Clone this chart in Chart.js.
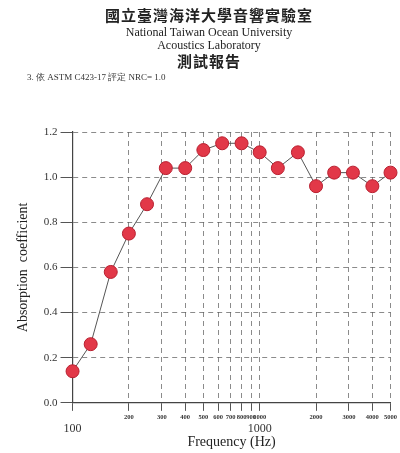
<!DOCTYPE html>
<html>
<head>
<meta charset="utf-8">
<script src="https://cdn.jsdelivr.net/npm/chart.js@4/dist/chart.umd.min.js"></script>
<style>
  html,body{margin:0;padding:0;background:#fff;}
  #wrap{position:relative;width:400px;height:453px;overflow:hidden;}
  .hd{position:absolute;left:9px;width:400px;text-align:center;color:#222;white-space:nowrap;}
  .cjk{font-family:"Noto Sans CJK TC","Noto Sans CJK SC",serif;font-weight:700;}
  .rm{font-family:"Liberation Serif","DejaVu Serif",serif;}
  canvas{position:absolute;left:0;top:0;}
</style>
</head>
<body>
<div id="wrap">
  <canvas id="c" width="400" height="453"></canvas>
  <div class="hd cjk" style="top:4px;font-size:15px;letter-spacing:1px;">國立臺灣海洋大學音響實驗室</div>
  <div class="hd rm" style="top:25px;font-size:12px;">National Taiwan Ocean University</div>
  <div class="hd rm" style="top:38px;font-size:12px;">Acoustics Laboratory</div>
  <div class="hd cjk" style="top:50px;font-size:15px;letter-spacing:1px;">測試報告</div>
  <div class="rm" style="position:absolute;left:27px;top:71px;font-size:9px;color:#333;">3. 依 ASTM C423-17 評定 NRC= 1.0</div>
</div>
<script>
// ---------- DATA ----------
const freqs = [100,125,160,200,250,315,400,500,630,800,1000,1250,1600,2000,2500,3150,4000,5000];
const alpha = [0.14,0.26,0.58,0.75,0.88,1.04,1.04,1.12,1.15,1.15,1.11,1.04,1.11,0.96,1.02,1.02,0.96,1.02];
const smallTicks = [100,200,300,400,500,600,700,800,900,1000,2000,3000,4000,5000];
const bigTicks = [100,1000];
const yTicks = [0,0.2,0.4,0.6,0.8,1.0,1.2];

const serif = '"Liberation Serif","DejaVu Serif",serif';
const gridCol = 'rgba(90,90,90,0.7)';

new Chart(document.getElementById('c').getContext('2d'),{
  type:'line',
  data:{
    labels:freqs,
    datasets:[{
      data:freqs.map((f,i)=>({x:f,y:alpha[i]})),
      borderColor:'#555',borderWidth:1,
      pointRadius:6.5,pointBackgroundColor:'#e23848',pointBorderColor:'#b82030',pointBorderWidth:1,
      clip:false,tension:0
    }]
  },
  options:{
    responsive:false,animation:false,
    layout:{padding:{top:132,left:15,right:1,bottom:4}},
    plugins:{legend:{display:false},tooltip:{enabled:false}},
    scales:{
      x:{
        type:'logarithmic',position:'bottom',weight:0,min:100,max:5000,
        afterBuildTicks:s=>{s.ticks=smallTicks.map(v=>({value:v}));},
        ticks:{autoSkip:false,maxRotation:0,minRotation:0,padding:3,color:'#333',
          font:{family:serif,size:6.5,weight:'bold',lineHeight:1.1},
          callback:v=>(v===100?'':String(v))},
        grid:{color:gridCol,lineWidth:1,tickLength:8,tickColor:'#555',tickBorderDash:[]},
        border:{display:true,color:'#444',width:1.2,dash:[5,4]}
      },
      x2:{
        type:'logarithmic',position:'bottom',weight:1,min:100,max:5000,
        afterBuildTicks:s=>{s.ticks=bigTicks.map(v=>({value:v}));},
        ticks:{autoSkip:false,maxRotation:0,minRotation:0,padding:-1,color:'#333',
          font:{family:serif,size:12,lineHeight:1},callback:v=>String(v)},
        grid:{display:false,drawTicks:false},
        border:{display:false},
        title:{display:true,text:'Frequency (Hz)',color:'#222',font:{family:serif,size:14,lineHeight:1},padding:{top:1,bottom:0}}
      },
      y:{
        min:0,max:1.2,
        afterBuildTicks:s=>{s.ticks=yTicks.map(v=>({value:v}));},
        ticks:{padding:3,color:'#333',font:{family:serif,size:11},callback:v=>Number(v).toFixed(1)},
        grid:{color:gridCol,lineWidth:1,tickLength:12,tickColor:'#555',tickBorderDash:[]},
        border:{display:true,color:'#444',width:1.2,dash:[5,4]},
        title:{display:true,text:'Absorption  coefficient',color:'#222',font:{family:serif,size:14},padding:{top:0,bottom:9}}
      }
    }
  }
});
</script>
</body>
</html>
